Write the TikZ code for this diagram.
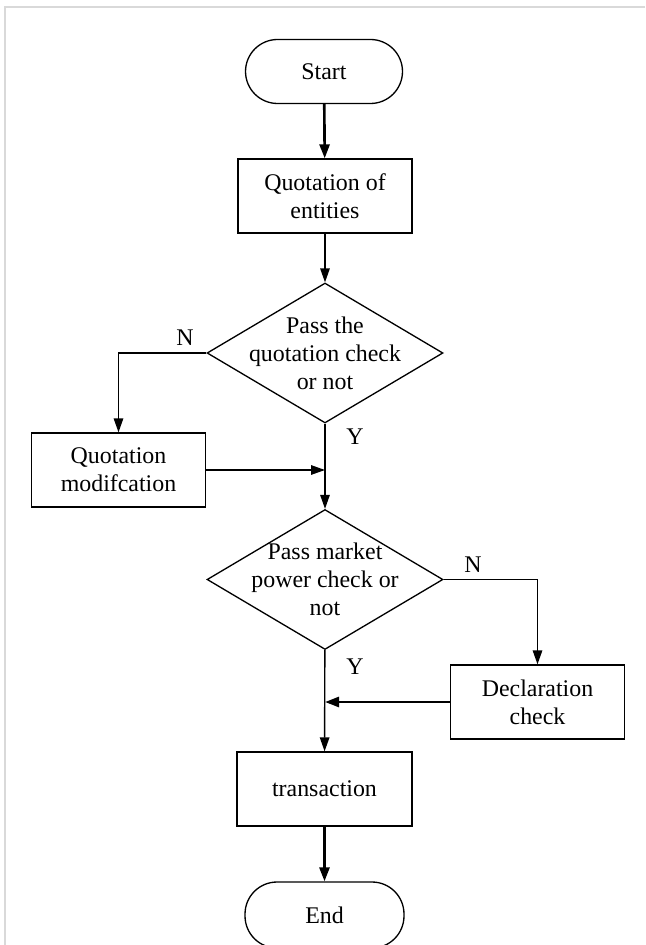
\documentclass[tikz,border=0pt]{standalone}
\usepackage{fontspec}
\setmainfont{Liberation Serif}
\usetikzlibrary{shapes.geometric,arrows.meta}

\tikzset{
    box/.style={draw, line width=0.75pt, minimum width=3.48cm, minimum height=1.48cm,
        align=center, inner sep=1pt},
    term/.style={draw, line width=0.75pt, rounded corners=0.64cm, minimum width=3.14cm,
        minimum height=1.28cm, inner sep=1pt},
    decide/.style={draw, diamond, line width=0.75pt, minimum width=4.72cm,
        minimum height=2.8cm, aspect=1.69, inner sep=-6pt, align=center},
    flow/.style={line width=0.8pt, -{Triangle[length=0.28cm,width=0.19cm]}},
    bold/.style={line width=1.5pt, -{Triangle[length=0.28cm,width=0.2cm]}},
    lbl/.style={inner sep=0pt}
}

\begin{document}
\begin{tikzpicture}[x=0.02cm, y=-0.02cm, font=\fontsize{13.6}{16}\selectfont]
        % Page frame
        \useasboundingbox (0,0) rectangle (645,945);
        \draw[gray!30, line width=0.6pt] (645,7) -- (5,7) -- (5,945);

        % Nodes
        \node[term] (start) at (324,71.5) {Start};
        \node[box] (quote) at (325,196) {Quotation of\\entities};
        \node[decide] (check1) at (325,353) {Pass the\\quotation check\\or not};
        \node[box] (modif) at (118.5,470) {Quotation\\modifcation};
        \node[decide] (check2) at (325,579.5) {Pass market\\power check or\\not};
        \node[box] (decl) at (537.5,702) {Declaration\\check};
        \node[box, minimum width=3.5cm] (trans) at (324.5,789) {transaction};
        \node[term, minimum width=3.18cm, minimum height=1.32cm] (end) at (324.5,915) {End};

        % Junctions on the main line
        \coordinate (j1) at (check1.south |- modif.east);
        \coordinate (j2) at (check2.south |- decl.west);

        % Main line
        \draw[bold] (start) -- (quote);
        \draw[flow] (quote) -- (check1);
        \draw[flow] (check1) -- (check2);
        \draw[flow] (check2) -- (trans);
        \draw[bold] (trans) -- (end);

        % Branches
        \draw[flow] (check1.west) -| (modif.north);
        \draw[flow] (modif.east) -- (j1);
        \draw[flow] (check2.east) -| (decl.north);
        \draw[bold] (decl.west) -- (j2);

        % Labels
        \node[lbl] (n1) at (185,338) {N};
        \node[lbl] (y1) at (355,437) {Y};
        \node[lbl] (n2) at (473,565) {N};
        \node[lbl] (y2) at (355,667) {Y};
\end{tikzpicture}
\end{document}
